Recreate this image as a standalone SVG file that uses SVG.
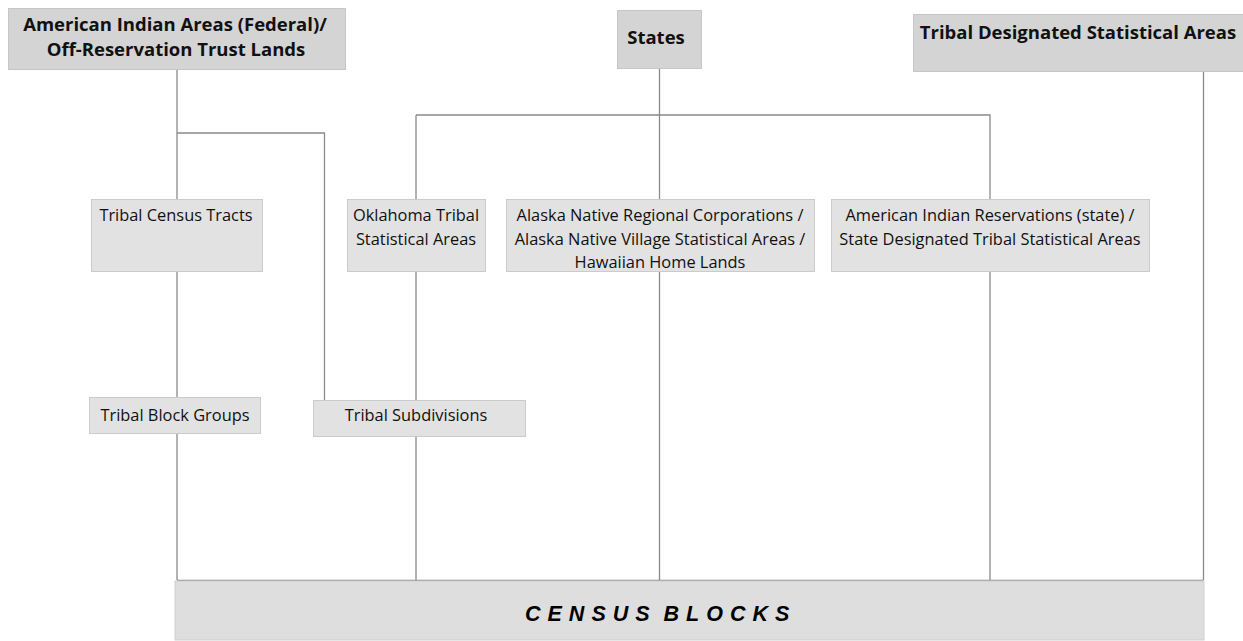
<svg xmlns="http://www.w3.org/2000/svg" width="1243" height="641" viewBox="0 0 1243 641">
<style>
.top{fill:#d4d4d4;stroke:#c6c6c6;stroke-width:1}
.box{fill:#e2e2e2;stroke:#cbcbcb;stroke-width:1}
.base{fill:#dedede;stroke:#d0d0d0;stroke-width:1}
.h{font-family:"Open Sans","Liberation Sans",sans-serif;font-weight:bold;font-size:18.5px;fill:#111;text-anchor:middle}
.t{font-family:"Open Sans","Liberation Sans",sans-serif;font-size:16.4px;fill:#111;text-anchor:middle}
.c{font-family:"Liberation Sans",Arial,sans-serif;font-weight:bold;font-style:italic;font-size:21.5px;fill:#000;letter-spacing:7px;word-spacing:-6px}
.ln{stroke:#8a8a8a;stroke-width:1.3;fill:none}
</style>
<rect width="1243" height="641" fill="#fff"/>
<g id="connectors">
<path class="ln" d="M177 69V580"/>
<path class="ln" d="M177 133H324.5V400"/>
<path class="ln" d="M659.5 68V580"/>
<path class="ln" d="M416 115H990V580"/>
<path class="ln" d="M416 115V580"/>
<path class="ln" d="M1203.5 71V580"/>
<path class="ln" d="M177 580.5H1203.5"/>
</g>
<g id="n-aia">
<rect class="top" x="8.5" y="8.5" width="337" height="61"/>
<text class="h" x="175" y="31">American Indian Areas (Federal)/</text>
<text class="h" x="176" y="56">Off-Reservation Trust Lands</text>
</g>
<g id="n-states">
<rect class="top" x="617.5" y="10.5" width="84" height="58"/>
<text class="h" x="656" y="44">States</text>
</g>
<g id="n-tdsa">
<rect class="top" x="913.5" y="14.5" width="332" height="57"/>
<text class="h" x="1078" y="39">Tribal Designated Statistical Areas</text>
</g>
<g id="n-tct">
<rect class="box" x="91.5" y="199.5" width="171" height="72"/>
<text class="t" x="176" y="221">Tribal Census Tracts</text>
</g>
<g id="n-otsa">
<rect class="box" x="347.5" y="199.5" width="138" height="72"/>
<text class="t" x="416" y="221">Oklahoma Tribal</text>
<text class="t" x="416" y="245">Statistical Areas</text>
</g>
<g id="n-anrc">
<rect class="box" x="506.5" y="199.5" width="308" height="72"/>
<text class="t" x="660" y="221">Alaska Native Regional Corporations /</text>
<text class="t" x="660" y="245">Alaska Native Village Statistical Areas /</text>
<text class="t" x="660" y="268">Hawaiian Home Lands</text>
</g>
<g id="n-air">
<rect class="box" x="831.5" y="199.5" width="318" height="72"/>
<text class="t" x="990" y="221">American Indian Reservations (state) /</text>
<text class="t" x="990" y="245">State Designated Tribal Statistical Areas</text>
</g>
<g id="n-tbg">
<rect class="box" x="89.5" y="397.5" width="171" height="36"/>
<text class="t" x="175" y="421">Tribal Block Groups</text>
</g>
<g id="n-ts">
<rect class="box" x="313.5" y="400.5" width="212" height="36"/>
<text class="t" x="416" y="421">Tribal Subdivisions</text>
</g>
<g id="n-cb">
<rect class="base" x="175" y="581" width="1029" height="59"/>
<text class="c" x="525" y="621">CENSUS BLOCKS</text>
</g>
</svg>
